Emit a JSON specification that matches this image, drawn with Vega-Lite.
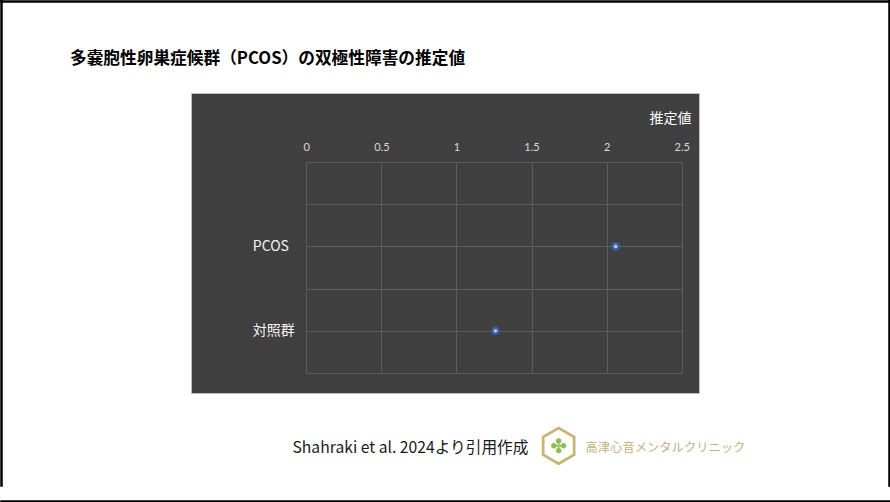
{
  "$schema": "https://vega.github.io/schema/vega-lite/v6.json",
  "autosize": "none",
  "width": 508,
  "height": 300,
  "padding": {"left": 191, "top": 93, "right": 191, "bottom": 109},
  "background": "white",
  "config": {
    "view": {"fill": "#404040", "stroke": "#bfbfbf", "strokeWidth": 1}
  },
  "title": {
    "text": "多嚢胞性卵巣症候群（PCOS）の双極性障害の推定値",
    "anchor": "start",
    "frame": "group",
    "dx": -121,
    "dy": 8,
    "offset": 27,
    "font": "Noto Sans CJK JP",
    "fontSize": 16.7,
    "fontWeight": "bold",
    "color": "#000000"
  },
  "data": {
    "values": [
      {"group": "PCOS", "value": 2.06},
      {"group": "対照群", "value": 1.26}
    ]
  },
  "resolve": {
    "scale": {"x": "independent", "y": "independent"},
    "axis": {"x": "independent", "y": "independent"}
  },
  "layer": [
    {
      "mark": {"type": "circle", "color": "#3b62b0", "opacity": 0.85, "size": 75},
      "encoding": {
        "x": {
          "field": "value",
          "type": "quantitative",
          "scale": {"domain": [0, 2.5], "range": [115.3, 490.7], "nice": false, "zero": false},
          "axis": {
            "orient": "top",
            "offset": -69,
            "values": [0, 0.5, 1, 1.5, 2, 2.5],
            "format": "~g",
            "grid": true,
            "gridColor": "#5c5c5c",
            "gridWidth": 1,
            "domain": false,
            "ticks": false,
            "labelPadding": 10,
            "labelFont": "Lato",
            "labelFontSize": 11,
            "labelColor": "#d9d9d9",
            "labelFlush": false,
            "title": "推定値",
            "titleFont": "Noto Sans CJK JP",
            "titleFontSize": 14,
            "titleFontWeight": "normal",
            "titleColor": "#ffffff",
            "titleX": 479,
            "titleY": -44,
            "titleAlign": "center",
            "titleBaseline": "middle"
          }
        },
        "y": {
          "field": "group",
          "type": "nominal",
          "scale": {
            "type": "point",
            "domain": [" ", "  ", "PCOS", "   ", "対照群", "    "],
            "range": [69, 280],
            "padding": 0
          },
          "axis": {
            "orient": "left",
            "offset": -115.3,
            "grid": true,
            "gridColor": "#5c5c5c",
            "gridWidth": 1,
            "domain": false,
            "ticks": false,
            "labelAlign": "left",
            "labelBaseline": "middle",
            "labelPadding": 54,
            "labelFont": "Noto Sans CJK JP",
            "labelFontSize": 14,
            "labelColor": "#f2f2f2",
            "title": null
          }
        }
      }
    },
    {
      "mark": {"type": "circle", "color": "#a9c4ff", "opacity": 1, "size": 14},
      "encoding": {
        "x": {
          "field": "value",
          "type": "quantitative",
          "scale": {"domain": [0, 2.5], "range": [115.3, 490.7], "nice": false, "zero": false},
          "axis": {
            "orient": "bottom",
            "values": [1.676, 1.677],
            "grid": false,
            "domain": false,
            "ticks": false,
            "labelExpr": "datum.value < 1.6765 ? '⬡' : '✤'",
            "labelFont": "DejaVu Sans",
            "labelFontSize": {"condition": {"test": "datum.value < 1.6765", "value": 46}, "value": 20},
            "labelColor": {"condition": {"test": "datum.value < 1.6765", "value": "#c8b46e"}, "value": "#8cc04a"},
            "labelBaseline": "middle",
            "labelPadding": 53,
            "labelOverlap": false,
            "labelFlush": false,
            "title": "Shahraki et al. 2024より引用作成",
            "titleFont": "Noto Sans CJK JP",
            "titleFontSize": 15.7,
            "titleFontWeight": "normal",
            "titleColor": "#1a1a1a",
            "titleX": 101,
            "titleY": 54,
            "titleAlign": "left",
            "titleBaseline": "middle"
          }
        },
        "y": {
          "field": "group",
          "type": "nominal",
          "scale": {
            "type": "point",
            "domain": [" ", "  ", "PCOS", "   ", "対照群", "    "],
            "range": [69, 280],
            "padding": 0
          },
          "axis": {
            "orient": "right",
            "grid": false,
            "domain": false,
            "ticks": false,
            "labels": false,
            "title": "高津心音メンタルクリニック",
            "titleFont": "Noto Sans CJK JP",
            "titleFontSize": 12.3,
            "titleFontWeight": "normal",
            "titleColor": "#c4b37c",
            "titleAngle": 0,
            "titleX": -114,
            "titleY": 354,
            "titleAlign": "left",
            "titleBaseline": "middle"
          }
        }
      }
    },
    {
      "mark": {"type": "point", "opacity": 0},
      "encoding": {
        "x": {
          "field": "value",
          "type": "quantitative",
          "scale": {"domain": [0, 2.5], "range": [-190, 697.5], "nice": false, "zero": false},
          "axis": {
            "orient": "bottom",
            "values": [0, 2.5],
            "grid": true,
            "gridColor": "#000000",
            "gridWidth": 2.5,
            "gridCap": "square",
            "domain": false,
            "ticks": false,
            "labels": false,
            "title": null
          }
        },
        "y": {
          "field": "value",
          "type": "quantitative",
          "scale": {"domain": [0, 2.5], "range": [408, -92], "nice": false, "zero": false},
          "axis": {
            "orient": "left",
            "values": [0, 2.5],
            "grid": true,
            "gridColor": "#000000",
            "gridWidth": 2.5,
            "gridCap": "square",
            "domain": false,
            "ticks": false,
            "labels": false,
            "title": null
          }
        }
      }
    }
  ]
}
